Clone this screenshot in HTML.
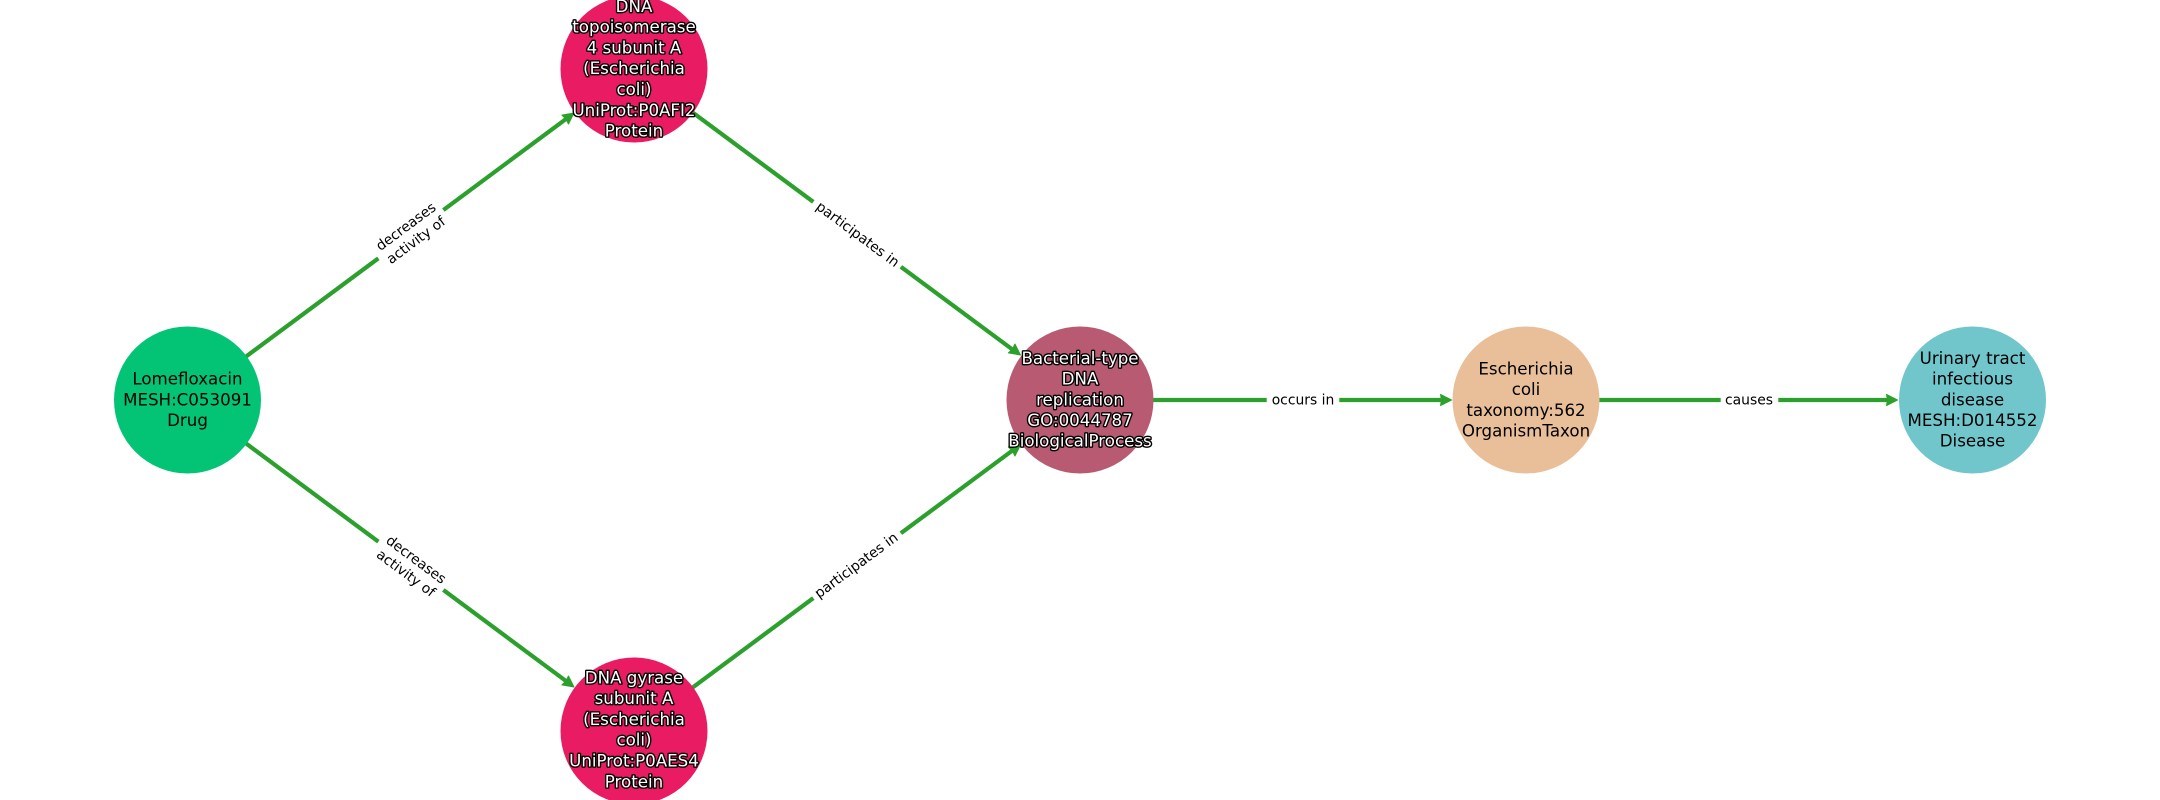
<!DOCTYPE html>
<html><head><meta charset="utf-8">
<style>
html,body{margin:0;padding:0;background:#fff;width:2160px;height:800px;overflow:hidden}
svg{display:block}
text{font-family:"DejaVu Sans",sans-serif;text-anchor:middle}
.n{font-size:16.67px;fill:#000}
.h{font-size:16.67px;fill:#fff;stroke:#000;stroke-width:2.8px;paint-order:stroke;stroke-linejoin:round}
.e{font-size:13.9px;fill:#000}
</style></head><body>
<svg width="2160" height="800" viewBox="0 0 2160 800" xmlns="http://www.w3.org/2000/svg">
<rect width="2160" height="800" fill="#fff"/>
<g stroke="#2ca02c" stroke-width="4.2" fill="none">
<line x1="187.5" y1="400" x2="568" y2="117.5"/>
<line x1="187.5" y1="400" x2="568" y2="682.5"/>
<line x1="634" y1="69" x2="1014.5" y2="351"/>
<line x1="634" y1="731" x2="1014.5" y2="449"/>
<line x1="1080" y1="400" x2="1445" y2="400"/>
<line x1="1526.5" y1="400" x2="1892" y2="400"/>
</g>
<g fill="#2ca02c" stroke="#2ca02c" stroke-width="1" stroke-linejoin="round">
<polygon points="0,0 -11,-5.5 -10,0 -11,5.5" transform="translate(574,113) rotate(-36.6)"/>
<polygon points="0,0 -11,-5.5 -10,0 -11,5.5" transform="translate(574,687) rotate(36.6)"/>
<polygon points="0,0 -11,-5.5 -10,0 -11,5.5" transform="translate(1020.5,355) rotate(36.6)"/>
<polygon points="0,0 -11,-5.5 -10,0 -11,5.5" transform="translate(1020.5,445) rotate(-36.6)"/>
<polygon points="0,0 -11,-5.5 -10,0 -11,5.5" transform="translate(1451.5,400)"/>
<polygon points="0,0 -11,-5.5 -10,0 -11,5.5" transform="translate(1897.5,400)"/>
</g>
<g fill="#fff">
<rect x="-40.5" y="-22" width="81" height="44" transform="translate(410.7,234) rotate(-36.6)"/>
<rect x="-40.5" y="-22" width="81" height="44" transform="translate(410.7,566) rotate(36.6)"/>
<rect x="-54.5" y="-12" width="109" height="24" transform="translate(857,234.5) rotate(36.6)"/>
<rect x="-54.5" y="-12" width="109" height="24" transform="translate(857,565.5) rotate(-36.6)"/>
<rect x="1266.7" y="388" width="72.6" height="24"/>
<rect x="1720.7" y="388" width="57.6" height="24"/>
</g>
<g class="e">
<text class="e" transform="translate(411,233.5) rotate(-36.6)"><tspan x="0" y="-4">decreases</tspan><tspan x="0" y="13">activity of</tspan></text>
<text class="e" transform="translate(411,566.5) rotate(36.6)"><tspan x="0" y="-4">decreases</tspan><tspan x="0" y="13">activity of</tspan></text>
<text class="e" transform="translate(858,234) rotate(36.6)" y="5">participates in</text>
<text class="e" transform="translate(856,565) rotate(-36.6)" y="5">participates in</text>
<text class="e" x="1303" y="404.5">occurs in</text>
<text class="e" x="1749" y="404.5">causes</text>
</g>
<circle cx="187.5" cy="400" r="73.5" fill="#03c475"/>
<circle cx="634" cy="69" r="73.5" fill="#e91b63"/>
<circle cx="634" cy="731" r="73.5" fill="#e91b63"/>
<circle cx="1080" cy="400" r="73.5" fill="#b85b72"/>
<circle cx="1526" cy="400" r="73.5" fill="#e8bf98"/>
<circle cx="1972.5" cy="400" r="73.5" fill="#71c6cc"/>
<text class="n"><tspan x="187.5" y="384.5">Lomefloxacin</tspan><tspan x="187.5" y="405.5">MESH:C053091</tspan><tspan x="187.5" y="426">Drug</tspan></text>
<text class="h"><tspan x="634" y="12">DNA</tspan><tspan x="634" y="32.7">topoisomerase</tspan><tspan x="634" y="53.5">4 subunit A</tspan><tspan x="634" y="74.2">(Escherichia</tspan><tspan x="634" y="95">coli)</tspan><tspan x="634" y="115.8">UniProt:P0AFI2</tspan><tspan x="634" y="136.6">Protein</tspan></text>
<text class="h"><tspan x="634" y="683.5">DNA gyrase</tspan><tspan x="634" y="704">subunit A</tspan><tspan x="634" y="725">(Escherichia</tspan><tspan x="634" y="745.7">coli)</tspan><tspan x="634" y="766.5">UniProt:P0AES4</tspan><tspan x="634" y="787.3">Protein</tspan></text>
<text class="h"><tspan x="1080" y="364">Bacterial-type</tspan><tspan x="1080" y="384.5">DNA</tspan><tspan x="1080" y="405.3">replication</tspan><tspan x="1080" y="426">GO:0044787</tspan><tspan x="1080" y="446.7">BiologicalProcess</tspan></text>
<text class="n"><tspan x="1526" y="374.5">Escherichia</tspan><tspan x="1526" y="395">coli</tspan><tspan x="1526" y="415.8">taxonomy:562</tspan><tspan x="1526" y="436.5">OrganismTaxon</tspan></text>
<text class="n"><tspan x="1972.5" y="364">Urinary tract</tspan><tspan x="1972.5" y="384.5">infectious</tspan><tspan x="1972.5" y="405.3">disease</tspan><tspan x="1972.5" y="426">MESH:D014552</tspan><tspan x="1972.5" y="446.7">Disease</tspan></text>
</svg>
</body></html>
